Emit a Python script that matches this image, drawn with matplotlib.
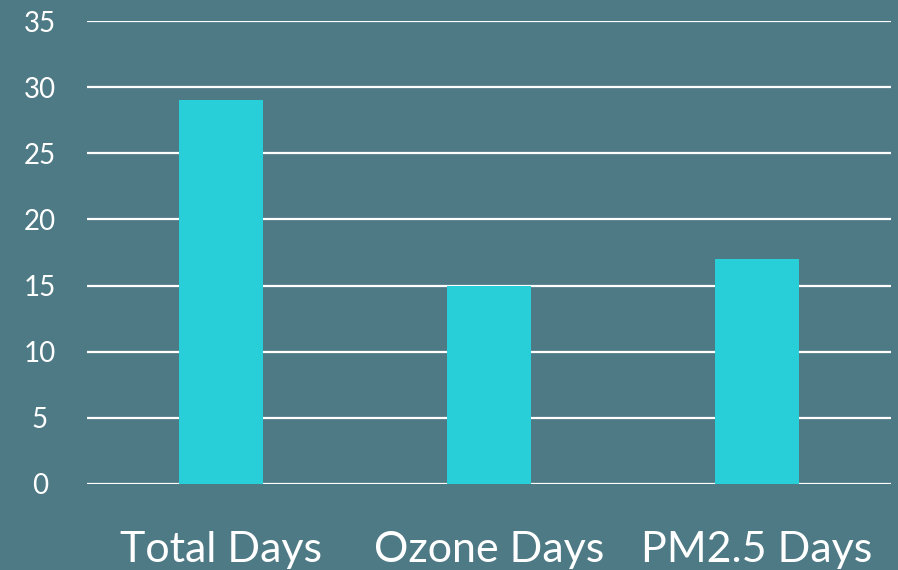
import matplotlib
matplotlib.use("Agg")
import matplotlib.pyplot as plt

categories = ["Total Days", "Ozone Days", "PM2.5 Days"]
values = [29, 15, 17]
yticks = [0, 5, 10, 15, 20, 25, 30, 35]

bg = "#4E7A85"
bar_color = "#28CED8"

plt.rcParams['font.family'] = ['Lato', 'DejaVu Sans']

fig = plt.figure(figsize=(8.98, 5.70), dpi=100)
fig.patch.set_facecolor(bg)
ax = fig.add_axes([87/898, (570-484)/570, (891-87)/898, (484-21)/570])
ax.set_facecolor(bg)

x = range(len(categories))
ax.bar(x, values, width=0.314, color=bar_color, zorder=3)
ax.set_xlim(-0.5, len(categories) - 0.5)
ax.set_ylim(0, 35)
ax.set_yticks(yticks)
ax.set_yticklabels([str(t) for t in yticks])
ax.set_xticks(list(x))
ax.set_xticklabels(categories)

for t in yticks:
    ax.axhline(t, color="white", linewidth=1.6, zorder=2)

for s in ax.spines.values():
    s.set_visible(False)
ax.tick_params(axis='y', length=0, pad=34, labelsize=20, labelcolor="white")
ax.tick_params(axis='x', length=0, pad=34, labelsize=31, labelcolor="white")
for lbl in ax.get_yticklabels():
    lbl.set_horizontalalignment('center')

fig.savefig("out.png", dpi=100, facecolor=bg)
